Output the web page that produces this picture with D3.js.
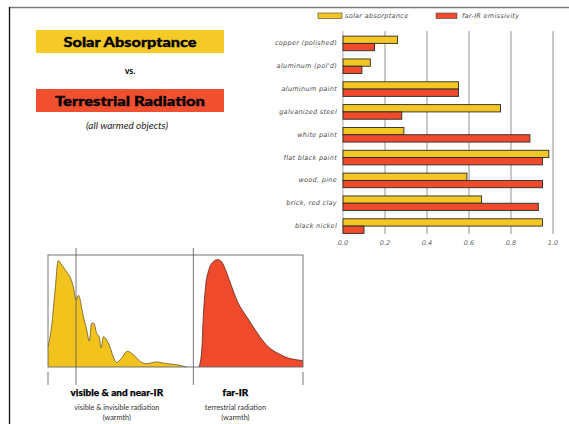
<!DOCTYPE html>
<head>
<meta charset="utf-8">
<script src="https://d3js.org/d3.v7.min.js"></script>
<style>
  body { margin: 0; background: #fff; }
  svg { display: block; }
</style>
</head>
<body>
<div id="vis"></div>
<script>
// bar chart values
const materials = ['copper (polished)', "aluminum (pol'd)", 'aluminum paint', 'galvanized steel',
  'white paint', 'flat  black paint', 'wood, pine', 'brick, red clay', 'black nickel']
const solarAbs = [0.26, 0.13, 0.55, 0.75, 0.29, 0.98, 0.59, 0.66, 0.95]
const farIrEmis = [0.15, 0.09, 0.55, 0.28, 0.89, 0.95, 0.95, 0.93, 0.10]
const xTicks = [0, 0.2, 0.4, 0.6, 0.8, 1.0]
const legendLabels = ['solar absorptance', 'far-IR emissivity']

// spectra (arbitrary units, wavelength 0..100 across the frame)
const sunWave = [0, 1.4, 2.8, 4.0, 5.4, 7.3, 8.9, 9.9, 11.0, 11.9, 12.5, 13.6, 15.2, 16.2, 17.1, 18.0, 19.1, 20.1,
  20.8, 21.7, 23.0, 24.3, 25.6, 26.9, 28.9, 31.1, 33.5, 36.1, 38.7, 42.6, 46.5, 50.5, 54.4]
const sunPower = [0.18, 0.36, 0.69, 0.95, 0.91, 0.85, 0.79, 0.72, 0.60, 0.64, 0.61, 0.48, 0.33, 0.23, 0.39, 0.39, 0.30, 0.27,
  0.17, 0.27, 0.24, 0.18, 0.09, 0.04, 0.08, 0.14, 0.11, 0.05, 0.03, 0.045, 0.03, 0.02, 0.0]
const earthWave = [59.2, 60.3, 60.9, 61.8, 63.1, 64.8, 66.5, 68.1, 70.1, 72.0, 74.6, 77.3, 79.9, 83.1, 86.4, 90.3, 94.2, 97.5, 100]
const earthPower = [0, 0.15, 0.45, 0.72, 0.87, 0.94, 0.96, 0.94, 0.84, 0.72, 0.57, 0.47, 0.38, 0.27, 0.18, 0.12, 0.08, 0.065, 0.055]
const bandEdges = [0, 11, 57, 100]

const YELLOW = '#f3c623'
const RED = '#ee4a2b'

const svg = d3.select('#vis').append('svg')
  .attr('width', 569)
  .attr('height', 424)

// page frame
svg.append('line').attr('x1', 9).attr('x2', 569).attr('y1', 7.5).attr('y2', 7.5)
  .attr('stroke', '#7a7a7a').attr('stroke-width', 1.5)
svg.append('line').attr('x1', 9.5).attr('x2', 9.5).attr('y1', 7).attr('y2', 424)
  .attr('stroke', '#111').attr('stroke-width', 1.3)

// title blocks
const titleFont = 'Lato, "Open Sans", sans-serif'
svg.append('rect').attr('x', 36).attr('y', 30).attr('width', 188).attr('height', 23).attr('fill', '#f5c928')
svg.append('text').attr('x', 130).attr('y', 46.5).attr('text-anchor', 'middle')
  .style('font-family', titleFont).style('font-weight', 900).style('font-size', '14px')
  .style('stroke', '#000').style('stroke-width', 0.35)
  .attr('textLength', 133).attr('lengthAdjust', 'spacingAndGlyphs')
  .text('Solar Absorptance')
svg.append('text').attr('x', 130).attr('y', 74).attr('text-anchor', 'middle')
  .style('font-family', titleFont).style('font-weight', 700).style('font-size', '9px')
  .text('vs.')
svg.append('rect').attr('x', 36).attr('y', 89).attr('width', 188).attr('height', 23).attr('fill', '#f04f30')
svg.append('text').attr('x', 130).attr('y', 105.5).attr('text-anchor', 'middle')
  .style('font-family', titleFont).style('font-weight', 900).style('font-size', '14px')
  .style('stroke', '#000').style('stroke-width', 0.35)
  .attr('textLength', 150).attr('lengthAdjust', 'spacingAndGlyphs')
  .text('Terrestrial Radiation')
svg.append('text').attr('x', 127).attr('y', 128.5).attr('text-anchor', 'middle')
  .style('font-family', titleFont).style('font-style', 'italic').style('font-size', '9.5px')
  .attr('fill', '#222')
  .attr('textLength', 82).attr('lengthAdjust', 'spacingAndGlyphs')
  .text('(all warmed objects)')

// ---- bar chart ----
const x = d3.scaleLinear().domain([0, 1]).range([343, 553])
const y = d3.scaleBand().domain(materials).range([32, 237.5]).paddingInner(0.36).paddingOuter(0.18)
const sub = d3.scaleBand().domain(['solar', 'ir']).range([0, y.bandwidth()])
const handFont = '"DejaVu Sans", sans-serif'

const bars = svg.append('g')

bars.selectAll('.grid')
  .data(xTicks)
  .enter().append('line')
  .attr('x1', d => x(d)).attr('x2', d => x(d))
  .attr('y1', 31).attr('y2', 234)
  .attr('stroke', '#777').attr('stroke-width', d => d === 0 ? 0.6 : 0.8)

bars.selectAll('.tick')
  .data(xTicks)
  .enter().append('text')
  .attr('x', d => x(d)).attr('y', 245)
  .attr('text-anchor', 'middle')
  .style('font-family', handFont).style('font-style', 'italic').style('font-size', '6.5px')
  .attr('fill', '#666')
  .text(d => d3.format('.1f')(d))

bars.selectAll('.label')
  .data(materials)
  .enter().append('text')
  .attr('x', 337).attr('y', d => y(d) + y.bandwidth() / 2 + 2)
  .attr('text-anchor', 'end')
  .style('font-family', handFont).style('font-style', 'italic').style('font-size', '6.5px')
  .style('letter-spacing', '0.3px')
  .attr('fill', '#4a4a4a')
  .text(d => d)

bars.selectAll('.solar')
  .data(materials)
  .enter().append('rect')
  .attr('x', x(0)).attr('y', d => y(d) + sub('solar'))
  .attr('width', (d, i) => x(solarAbs[i]) - x(0))
  .attr('height', sub.bandwidth())
  .attr('fill', YELLOW).attr('stroke', '#2a2a2a').attr('stroke-width', 0.9)

bars.selectAll('.ir')
  .data(materials)
  .enter().append('rect')
  .attr('x', x(0)).attr('y', d => y(d) + sub('ir'))
  .attr('width', (d, i) => x(farIrEmis[i]) - x(0))
  .attr('height', sub.bandwidth())
  .attr('fill', RED).attr('stroke', '#2a2a2a').attr('stroke-width', 0.9)

// legend
const legend = bars.selectAll('.legend')
  .data(legendLabels)
  .enter().append('g')
  .attr('transform', (d, i) => `translate(${i ? 436 : 318},13)`)
legend.append('rect')
  .attr('width', (d, i) => i ? 21 : 24).attr('height', 5.5)
  .attr('fill', (d, i) => i ? RED : YELLOW)
  .attr('stroke', '#444').attr('stroke-width', 0.6)
legend.append('text')
  .attr('x', (d, i) => i ? 26 : 27).attr('y', 5)
  .style('font-family', handFont).style('font-style', 'italic').style('font-size', '6.5px')
  .style('letter-spacing', '0.3px')
  .attr('fill', '#4a4a4a')
  .text(d => d)

// ---- spectrum chart ----
const sx = d3.scaleLinear().domain([0, 100]).range([48, 303])
const sy = d3.scaleLinear().domain([0, 1]).range([367, 255])
const spec = svg.append('g')

const sunData = sunWave.map((w, i) => [w, sunPower[i]])
const earthData = earthWave.map((w, i) => [w, earthPower[i]])

const area = d3.area().x(d => sx(d[0])).y0(sy(0)).y1(d => sy(d[1])).curve(d3.curveMonotoneX)
const line = d3.line().x(d => sx(d[0])).y(d => sy(d[1])).curve(d3.curveMonotoneX)

spec.append('path').datum(sunData).attr('d', area).attr('fill', '#f2c31c')
spec.append('path').datum(sunData).attr('d', line).attr('fill', 'none')
  .attr('stroke', '#6b5a2a').attr('stroke-width', 0.8)
spec.append('path').datum(earthData).attr('d', area).attr('fill', RED)
spec.append('path').datum(earthData).attr('d', line).attr('fill', 'none')
  .attr('stroke', '#5a2a1f').attr('stroke-width', 0.8)

spec.append('rect')
  .attr('x', sx(0)).attr('y', sy(1)).attr('width', sx(100) - sx(0)).attr('height', sy(0) - sy(1))
  .attr('fill', 'none').attr('stroke', '#666').attr('stroke-width', 0.9)

spec.selectAll('.edge')
  .data(bandEdges)
  .enter().append('line')
  .attr('x1', d => sx(d)).attr('x2', d => sx(d))
  .attr('y1', d => (d === 0 || d === 100) ? 372 : 248)
  .attr('y2', 385)
  .attr('stroke', '#555').attr('stroke-width', 0.8)

const bandLabels = [
  { at: 27, title: 'visible & and near-IR', sub1: 'visible & invisible radiation', sub2: '(warmth)' },
  { at: 73.5, title: 'far-IR', sub1: 'terrestrial radiation', sub2: '(warmth)' }
]
const bl = spec.selectAll('.band')
  .data(bandLabels)
  .enter().append('g')
bl.append('text')
  .attr('x', d => sx(d.at)).attr('y', 396)
  .attr('text-anchor', 'middle')
  .style('font-family', titleFont).style('font-weight', 900).style('font-size', '10px')
  .style('stroke', '#000').style('stroke-width', 0.25)
  .text(d => d.title)
bl.append('text')
  .attr('x', d => sx(d.at)).attr('y', 410)
  .attr('text-anchor', 'middle')
  .style('font-family', titleFont).style('font-size', '7.3px').attr('fill', '#333')
  .text(d => d.sub1)
bl.append('text')
  .attr('x', d => sx(d.at)).attr('y', 420)
  .attr('text-anchor', 'middle')
  .style('font-family', titleFont).style('font-size', '7.3px').attr('fill', '#333')
  .text(d => d.sub2)
</script>
</body>
